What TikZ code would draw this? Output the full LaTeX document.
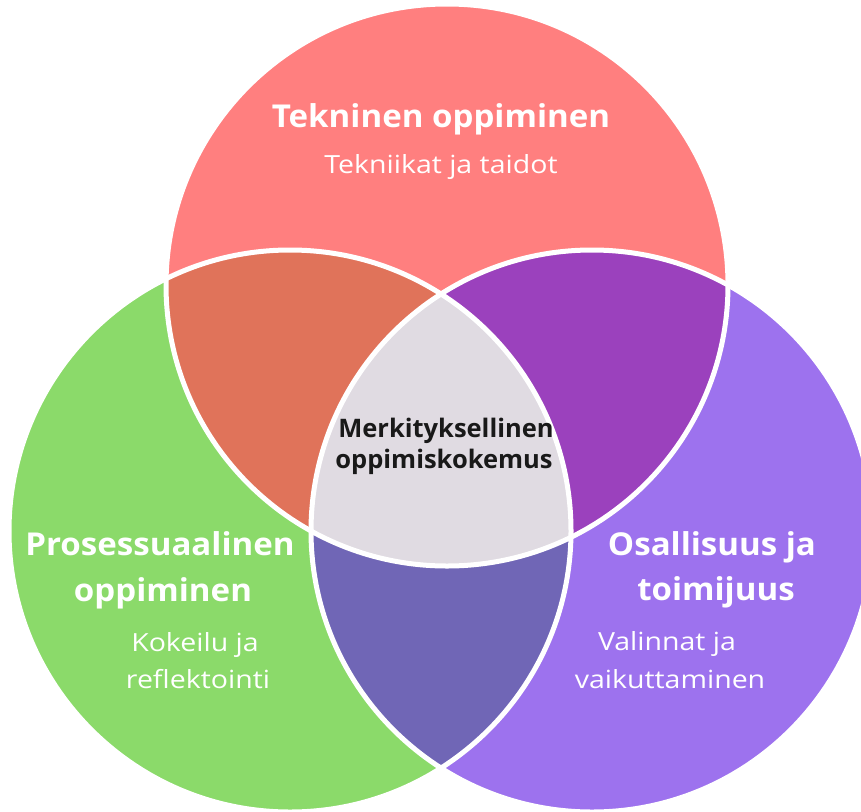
\documentclass[tikz,border=0pt]{standalone}
\usepackage{fontspec}
\setmainfont{Open Sans}
\newfontfamily\headfont[FakeStretch=1.05]{Open Sans}
\newfontfamily\subfont[FakeStretch=1.14]{Open Sans}
\definecolor{topc}{HTML}{FF7F7F}
\definecolor{leftc}{HTML}{8BDA6A}
\definecolor{rightc}{HTML}{9D72EE}
\definecolor{tlc}{HTML}{E0735A}
\definecolor{trc}{HTML}{9B41BD}
\definecolor{lrc}{HTML}{7066B6}
\definecolor{midc}{HTML}{E0DBE2}
\tikzset{
  headtxt/.style={anchor=base, text=white, font=\headfont\fontsize{31.5}{36}\selectfont\bfseries, inner sep=0pt},
  subtxt/.style={anchor=base, text=white, font=\subfont\fontsize{25}{28}\selectfont, inner sep=0pt},
  midtxt/.style={anchor=base, text=black!90, font=\fontsize{25.5}{32}\selectfont\bfseries, inner sep=0pt},
  ring/.style={draw=white, line width=5pt}
}
\begin{document}
\begin{tikzpicture}[x=1pt, y=-1pt]
\useasboundingbox (0,0) rectangle (861,811);
\clip (0,0) rectangle (861,811);
% circle centres
\coordinate (T) at (447,285);
\coordinate (L) at (290,531);
\coordinate (R) at (592,531);
\def\rad{281pt}
% base discs
\fill[topc] (T) circle (\rad);
\fill[leftc] (L) circle (\rad);
\fill[rightc] (R) circle (\rad);
% pairwise overlaps
\begin{scope}\clip (T) circle (\rad); \fill[tlc] (L) circle (\rad);\end{scope}
\begin{scope}\clip (T) circle (\rad); \fill[trc] (R) circle (\rad);\end{scope}
\begin{scope}\clip (L) circle (\rad); \fill[lrc] (R) circle (\rad);\end{scope}
% triple overlap
\begin{scope}\clip (T) circle (\rad); \clip (L) circle (\rad); \fill[midc] (R) circle (\rad);\end{scope}
% white outlines
\draw[ring] (T) circle (\rad);
\draw[ring] (L) circle (\rad);
\draw[ring] (R) circle (\rad);
% labels
\node[headtxt] (t1) at (441,127) {Tekninen oppiminen};
\node[subtxt]  (t2) at (441,173) {Tekniikat ja taidot};
\node[midtxt]  (m1) at (446,437) {Merkityksellinen};
\node[midtxt]  (m2) at (444,468) {oppimiskokemus};
\node[headtxt] (l1) at (160,555) {Prosessuaalinen};
\node[headtxt] (l2) at (163,601) {oppiminen};
\node[subtxt]  (l3) at (195,651) {Kokeilu ja};
\node[subtxt]  (l4) at (198,688) {reflektointi};
\node[headtxt] (r1) at (712,555) {Osallisuus ja};
\node[headtxt] (r2) at (716,600) {toimijuus};
\node[subtxt]  (r3) at (667,650) {Valinnat ja};
\node[subtxt]  (r4) at (670,688) {vaikuttaminen};
\end{tikzpicture}
\end{document}
